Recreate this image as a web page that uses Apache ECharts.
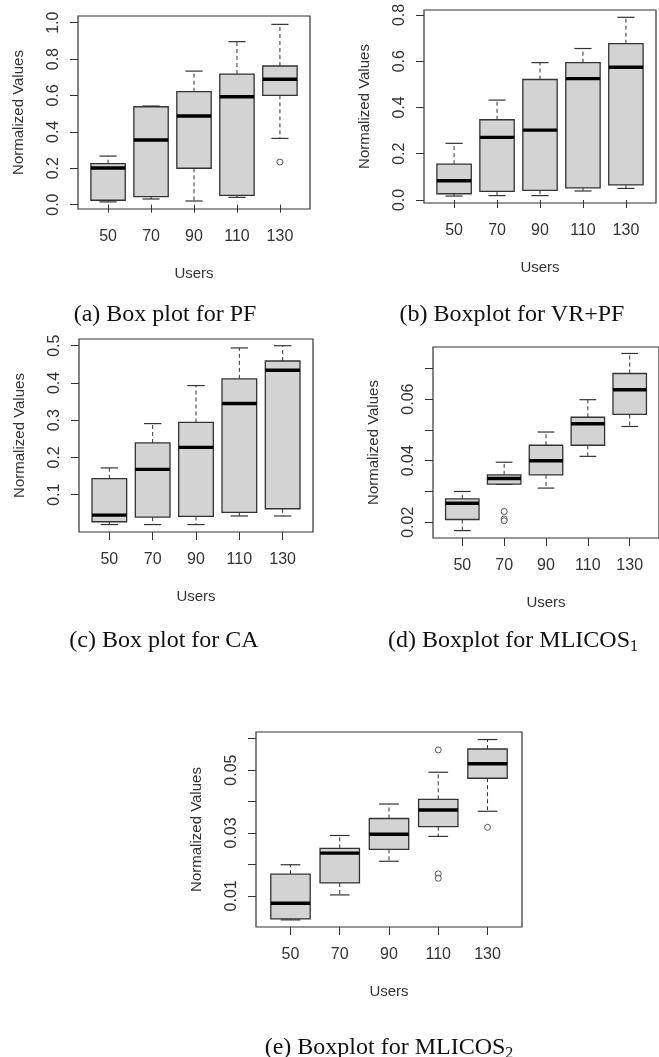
<!DOCTYPE html>
<html>
<head>
<meta charset="utf-8">
<script src="https://cdn.jsdelivr.net/npm/echarts@6/dist/echarts.min.js"></script>
<style>html,body{margin:0;padding:0;background:#fff;}#c{width:659px;height:1057px;}</style>
</head>
<body>
<div id="c"></div>
<script>
// ---- data ----
const users = ['50', '70', '90', '110', '130'];

// [min whisker, Q1, median, Q3, max whisker] per user group
const pfStats = [
  [0.015, 0.024, 0.201, 0.225, 0.267],
  [0.031, 0.044, 0.355, 0.538, 0.542],
  [0.020, 0.200, 0.487, 0.621, 0.734],
  [0.040, 0.051, 0.593, 0.718, 0.896],
  [0.364, 0.601, 0.689, 0.762, 0.991]
];
const pfOutliers = [['130', 0.234]];

const vrpfStats = [
  [0.017, 0.027, 0.083, 0.155, 0.245],
  [0.019, 0.037, 0.271, 0.347, 0.432],
  [0.019, 0.042, 0.302, 0.521, 0.594],
  [0.039, 0.052, 0.525, 0.594, 0.655],
  [0.050, 0.065, 0.574, 0.676, 0.790]
];
const vrpfOutliers = [];

const caStats = [
  [0.020, 0.0275, 0.0454, 0.143, 0.172],
  [0.020, 0.040, 0.168, 0.239, 0.291],
  [0.020, 0.042, 0.227, 0.294, 0.393],
  [0.043, 0.0526, 0.345, 0.411, 0.494],
  [0.043, 0.0624, 0.434, 0.459, 0.500]
];
const caOutliers = [];

const mlicos1Stats = [
  [0.0173, 0.0209, 0.0262, 0.0276, 0.0300],
  [0.0323, 0.0324, 0.0342, 0.0354, 0.0395],
  [0.0311, 0.0354, 0.0400, 0.0450, 0.0493],
  [0.0414, 0.0450, 0.0520, 0.0541, 0.0598],
  [0.0511, 0.0550, 0.0630, 0.0683, 0.0748]
];
const mlicos1Outliers = [['70', 0.0235], ['70', 0.0211], ['70', 0.0205]];

const mlicos2Stats = [
  [0.00236, 0.00268, 0.00766, 0.0169, 0.0199],
  [0.0103, 0.0141, 0.0236, 0.0251, 0.0292],
  [0.0210, 0.0248, 0.0296, 0.0346, 0.0392],
  [0.0289, 0.0320, 0.0373, 0.0407, 0.0493],
  [0.0369, 0.0474, 0.0520, 0.0567, 0.0597]
];
const mlicos2Outliers = [['110', 0.0564], ['110', 0.0170], ['110', 0.0156], ['130', 0.0318]];

// tick values / labels
const pfTicks = [0.0, 0.2, 0.4, 0.6, 0.8, 1.0];
const pfLabels = [0.0, 0.2, 0.4, 0.6, 0.8, 1.0];
const vrpfTicks = [0.0, 0.2, 0.4, 0.6, 0.8];
const vrpfLabels = [0.0, 0.2, 0.4, 0.6, 0.8];
const caTicks = [0.1, 0.2, 0.3, 0.4, 0.5];
const caLabels = [0.1, 0.2, 0.3, 0.4, 0.5];
const mlicos1Ticks = [0.02, 0.03, 0.04, 0.05, 0.06, 0.07];
const mlicos1Labels = [0.02, 0.04, 0.06];
const mlicos2Ticks = [0.01, 0.02, 0.03, 0.04, 0.05, 0.06];
const mlicos2Labels = [0.01, 0.03, 0.05];

const captions = ['(a) Box plot for PF', '(b) Boxplot for VR+PF', '(c) Box plot for CA', '(d) Boxplot for MLICOS', '(e) Boxplot for MLICOS'];
const subscripts = ['', '', '', '1', '2'];
const xTitle = 'Users';
const yTitle = 'Normalized Values';

// ---- layout ----
const panels = [
  { stats: pfStats, out: pfOutliers, ticks: pfTicks, labels: pfLabels, dec: 1, min: -0.024, max: 1.037,
    grid: { left: 78, top: 16, width: 232, height: 193 } },
  { stats: vrpfStats, out: vrpfOutliers, ticks: vrpfTicks, labels: vrpfLabels, dec: 1, min: -0.013, max: 0.8216,
    grid: { left: 424, top: 10, width: 232, height: 193 } },
  { stats: caStats, out: caOutliers, ticks: caTicks, labels: caLabels, dec: 1, min: 0.0, max: 0.518,
    grid: { left: 79, top: 339, width: 234, height: 193 } },
  { stats: mlicos1Stats, out: mlicos1Outliers, ticks: mlicos1Ticks, labels: mlicos1Labels, dec: 2, min: 0.0149, max: 0.0769,
    grid: { left: 433, top: 347, width: 231, height: 191 } },
  { stats: mlicos2Stats, out: mlicos2Outliers, ticks: mlicos2Ticks, labels: mlicos2Labels, dec: 2, min: 0.0001, max: 0.0621,
    grid: { left: 256, top: 732, width: 266, height: 195 } }
];
const captionPos = [[165, 315], [512, 315], [164, 641], [513, 641], [389, 1048]];

const FONT = '"Liberation Sans", Arial, sans-serif';
const SERIF = '"Liberation Serif", "Times New Roman", serif';
const positions = users.map((u, i) => i + 1);

function renderBox(params, api) {
  const xv = api.value(0);
  const vMin = api.value(1), q1 = api.value(2), med = api.value(3), q3 = api.value(4), vMax = api.value(5);
  const cx = api.coord([xv, med])[0];
  const yMin = api.coord([xv, vMin])[1];
  const yQ1 = api.coord([xv, q1])[1];
  const yMed = api.coord([xv, med])[1];
  const yQ3 = api.coord([xv, q3])[1];
  const yMax = api.coord([xv, vMax])[1];
  const bw = api.size([0.8, 0])[0];
  const sw = bw / 4;
  const dashStyle = { stroke: '#333', lineWidth: 1, lineDash: [4, 3] };
  const solid = { stroke: '#333', lineWidth: 1.2 };
  return {
    type: 'group',
    children: [
      { type: 'line', shape: { x1: cx, y1: yQ1, x2: cx, y2: yMin }, style: dashStyle },
      { type: 'line', shape: { x1: cx, y1: yQ3, x2: cx, y2: yMax }, style: dashStyle },
      { type: 'line', shape: { x1: cx - sw, y1: yMin, x2: cx + sw, y2: yMin }, style: solid },
      { type: 'line', shape: { x1: cx - sw, y1: yMax, x2: cx + sw, y2: yMax }, style: solid },
      { type: 'rect', shape: { x: cx - bw / 2, y: yQ3, width: bw, height: yQ1 - yQ3 },
        style: { fill: '#d3d3d3', stroke: '#333', lineWidth: 1.3 } },
      { type: 'line', shape: { x1: cx - bw / 2, y1: yMed, x2: cx + bw / 2, y2: yMed },
        style: { stroke: '#000', lineWidth: 3.4 } }
    ]
  };
}

const option = {
  animation: false,
  backgroundColor: '#fff',
  grid: [], xAxis: [], yAxis: [], series: [], graphic: []
};

panels.forEach((p, i) => {
  option.grid.push(Object.assign({ show: true, borderColor: '#333', borderWidth: 1.2, backgroundColor: 'transparent' }, p.grid));
  option.xAxis.push({
    type: 'value', gridIndex: i, min: 0.3, max: 5.7,
    axisLine: { show: false }, splitLine: { show: false },
    axisTick: { show: true, customValues: positions, length: 8, lineStyle: { color: '#333', width: 1 } },
    axisLabel: { customValues: positions, margin: 20, fontSize: 16, color: '#333', fontFamily: FONT,
      formatter: v => users[Math.round(v) - 1] },
    name: xTitle, nameLocation: 'middle', nameGap: 57,
    nameTextStyle: { fontSize: 15, color: '#333', fontFamily: FONT }
  });
  option.yAxis.push({
    type: 'value', gridIndex: i, min: p.min, max: p.max,
    axisLine: { show: false }, splitLine: { show: false },
    axisTick: { show: true, customValues: p.ticks, length: 8, lineStyle: { color: '#333', width: 1 } },
    axisLabel: { customValues: p.labels, rotate: 90, margin: 16, fontSize: 16, color: '#333', fontFamily: FONT,
      formatter: v => Number(v).toFixed(p.dec) },
    name: yTitle, nameLocation: 'middle', nameGap: 52, nameRotate: 90,
    nameTextStyle: { fontSize: 15, color: '#333', fontFamily: FONT }
  });
  option.series.push({
    type: 'custom', xAxisIndex: i, yAxisIndex: i,
    renderItem: renderBox,
    encode: { x: 0, y: [1, 2, 3, 4, 5] },
    data: p.stats.map((s, k) => [positions[k]].concat(s))
  });
  option.series.push({
    type: 'scatter', xAxisIndex: i, yAxisIndex: i,
    symbol: 'circle', symbolSize: 6,
    itemStyle: { color: '#fff', borderColor: '#333', borderWidth: 1 },
    data: p.out.map(o => [users.indexOf(o[0]) + 1, o[1]])
  });
  const sub = subscripts[i];
  option.graphic.push({
    type: 'text', x: captionPos[i][0], y: captionPos[i][1],
    style: {
      text: sub ? '{m|' + captions[i] + '}{s|' + sub + '}' : '{m|' + captions[i] + '}',
      align: 'center', verticalAlign: 'middle',
      rich: {
        m: { fontSize: 24, fontFamily: SERIF, fill: '#111', lineHeight: 28 },
        s: { fontSize: 16, fontFamily: SERIF, fill: '#111', lineHeight: 16, verticalAlign: 'bottom' }
      }
    }
  });
});

const chart = echarts.init(document.getElementById('c'), null, { renderer: 'canvas' });
chart.setOption(option);
</script>
</body>
</html>
